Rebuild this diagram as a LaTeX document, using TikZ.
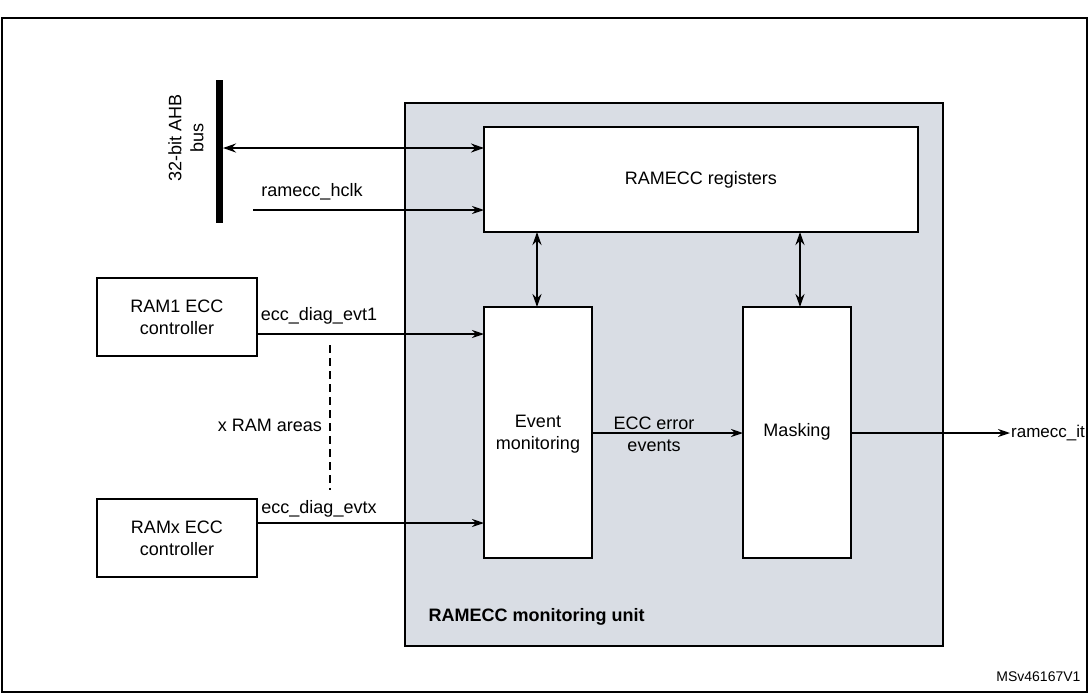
\documentclass[tikz,border=0pt]{standalone}
\usepackage{fontspec}
\setmainfont{Liberation Sans}
\usetikzlibrary{arrows.meta}
\definecolor{unitgray}{HTML}{D9DDE4}
\begin{document}
\begin{tikzpicture}[x=1pt,y=-1pt,
  box/.style={draw,fill=white,line width=1.4pt},
  arr/.style={-{Stealth[length=12pt,width=8pt]},line width=1.4pt},
  darr/.style={{Stealth[length=13pt,width=9pt]}-{Stealth[length=13pt,width=9pt]},line width=2.4pt},
  lbl/.style={font=\fontsize{18}{22}\selectfont,align=center}]
\useasboundingbox (0,0) rectangle (1089,694);
\draw[line width=1.4pt] (2,18) rectangle (1087,692);
\draw[fill=unitgray,line width=2.4pt] (405,103) rectangle (943,646);
\draw[box] (484,127) rectangle (918,232);
\node[lbl] (regl) at (701,180) {RAMECC registers};
\coordinate (regNW) at (484,148); \coordinate (regW2) at (484,210);
\draw[box] (484,307) rectangle (592,558);
\node[lbl] (ev) at (538,434) {Event\\monitoring};
\draw[box] (743,307) rectangle (851,558);
\node[lbl] (mask) at (797,432) {Masking};
\draw[box] (97,278) rectangle (257,356);
\node[lbl] (ram1) at (177,317) {RAM1 ECC\\controller};
\draw[box] (97,499) rectangle (257,577);
\node[lbl] (ramx) at (177,538) {RAMx ECC\\controller};
% bus
\coordinate (busT) at (219,80); \coordinate (busB) at (219,223);
\draw[line width=7pt] (busT) -- (busB);
\node[lbl,rotate=90] (busl) at (186,138) {32-bit AHB\\bus};
\coordinate (busA) at (223,148);
\draw[darr] (busA) -- (regNW);
\coordinate (hclkS) at (253,210);
\draw[arr] (hclkS) -- (regW2);
\node[lbl] (hclk) at (312,192) {ramecc\_hclk};
% vertical arrows
\coordinate (a1) at (537,232); \coordinate (a2) at (537,307);
\coordinate (b1) at (800,232); \coordinate (b2) at (800,307);
\draw[darr] (a1) -- (a2); \draw[darr] (b1) -- (b2);
% events
\coordinate (e1s) at (257,334); \coordinate (e1e) at (484,334);
\draw[arr] (e1s) -- (e1e);
\node[lbl] (e1l) at (319,316) {ecc\_diag\_evt1};
\coordinate (exs) at (257,523); \coordinate (exe) at (484,523);
\draw[arr] (exs) -- (exe);
\node[lbl] (exl) at (319,509) {ecc\_diag\_evtx};
\coordinate (d1) at (330,345); \coordinate (d2) at (330,490);
\draw[line width=1.2pt,dash pattern=on 8pt off 5pt] (d1) -- (d2);
\node[lbl] (xram) at (270,425) {x RAM areas};
\coordinate (m1) at (592,433); \coordinate (m2) at (743,433);
\draw[arr] (m1) -- (m2);
\node[lbl] (eccl) at (654,434) {ECC error\\events};
\coordinate (o1) at (851,433); \coordinate (o2) at (1010,433);
\draw[arr] (o1) -- (o2);
\node[lbl,anchor=west,inner sep=1pt,font=\fontsize{17}{20}\selectfont] (it) at (1010,433) {ramecc\_it};
\node[lbl,font=\fontsize{18}{22}\selectfont\bfseries,anchor=west] (unit) at (425,617) {RAMECC monitoring unit};
\node[font=\fontsize{14}{16}\selectfont,anchor=east] (ms) at (1084,677) {MSv46167V1};
\end{tikzpicture}
\end{document}
